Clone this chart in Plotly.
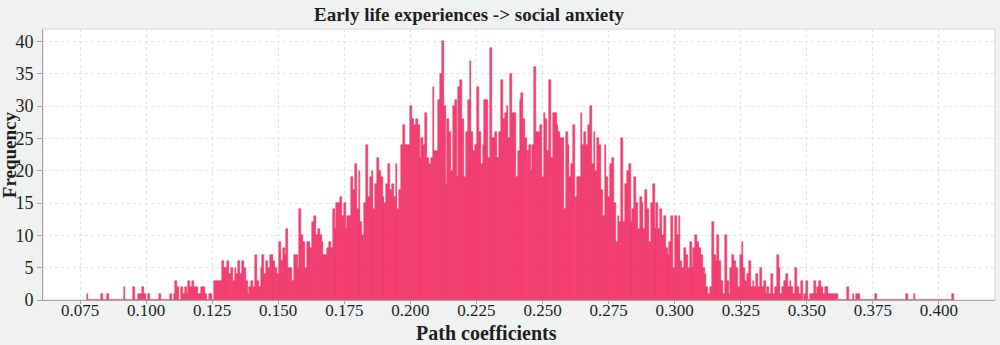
import plotly.graph_objects as go

# ---- data ----
bin_start = 0.0775      # left edge of first bin (path coefficient)
bin_width = 0.0007      # width of one bin

freq_left_tail = [1,0,0,0,0,0,0,0,1,0,0,1,0,0,0,0,0,0,0,0,2,0,0,0,0,2,0,0,1,1,2,1,0,1,0,0,0,0,0,1,0,0,0,0,0,1,0]
freq_rise = [1,3,2,0,2,1,2,1,3,2,3,2,2,1,
             1,2,2,1,0,1,1,0,3,3,3,3,6,5,
             5,6,4,5,3,5,4,6,4,6,5,3,1,2,
             3,2,7,3,2,5,7,4,6,5,7,7,6,5,
             4,9,6,8,7,11,5,5,3,7,7,5,14,10,
             9,5,9,9,8,12,13,10,11,10,9,7,7,8,
             9,8,14,11,15,15,16,13,15,11,13,13,19,17,
             21,14,20,12,10,15,24,16,19,20,14,18,22,20,
             19,16,15,18,21,17,18]
freq_peak_left = [16,21,14,17,24,27,24,24,24,30,28,27,28,27,22,25,24,29,22,21,
                  22,33,23,23,31,35,40,30,18,28,26,20,30,31,19]
freq_peak_mid = [33,34,28,19,26,31,37,26,23,24,33,26,21,24,31,31,22,39,25,25,
                 26,22,26,34,28,29,30,25,35,29,29,19,23,31,32]
freq_peak_right = [28,25,23,24,20,24,36,26,26,27,19,29,28,23,34,22,29,29,27,26,
                   25,25,14,26,24,19,21,27,16,19,19,29,24,26,24,27,30]
freq_fall = [21,26,20,25,24,17,13,24,19,16,21,22,15,9,13,12,25,12,18,20,
             21,12,14,19,15,11,16,15,11,17,14,9,15,18,11]
freq_low = [15,11,14,10,13,8,7,9,13,5,13,10,13,6,5,8,7,5,9,5,
            8,10,9,8,7,5,4,2,1,2,12,7,6,10,6,3,1,10]
freq_tail = [3,1,5,7,6,5,2,7,9,5,3,4,6,2,3,2,4,2,5,2,3,1,2,1,4,1,2,7,5,1,
             2,3,4,2,3,2,1,5,2,1,3,0,1,3,0,1,1,3,1,2,3]
freq_right_tail = [2,1,2,2,1,1,1,1,1,0,0,0,0,0,2,0,0,1,0,1,1,0,0,0,0,0,0,0,0,1,
                   0,0,0,0,0,0,0,0,0,0,0,0,0,0,0,0,1,0,0,0,1,0,0,0,0,0,0,0,0,0,
                   0,0,0,0,0,0,0,0,0,0,0,1]

freq = (freq_left_tail + freq_rise + freq_peak_left + freq_peak_mid + freq_peak_right
        + freq_fall + freq_low + freq_tail + freq_right_tail)
assert len(freq) == 469, len(freq)

x_tick_values = [0.075, 0.100, 0.125, 0.150, 0.175, 0.200, 0.225, 0.250, 0.275,
                 0.300, 0.325, 0.350, 0.375, 0.400]
x_tick_labels = ["0.075", "0.100", "0.125", "0.150", "0.175", "0.200", "0.225", "0.250",
                 "0.275", "0.300", "0.325", "0.350", "0.375", "0.400"]
y_tick_values = [0, 5, 10, 15, 20, 25, 30, 35, 40]

title_text = "Early life experiences -> social anxiety"
x_title = "Path coefficients"
y_title = "Frequency"

# ---- figure ----
centers = [bin_start + (k + 0.5) * bin_width for k in range(len(freq))]

FONT = "Liberation Serif"
TXT = "#1e1e1e"
fig = go.Figure(go.Bar(
    x=centers, y=freq, width=bin_width,
    marker=dict(color="#FF4074", line=dict(color="#DA2D5E", width=0.5)),
    hoverinfo="x+y",
))

fig.update_layout(
    width=1000, height=345,
    margin=dict(l=43, r=5, t=29, b=45),
    paper_bgcolor="#EFF2F1",
    plot_bgcolor="white",
    bargap=0,
    showlegend=False,
    font=dict(family=FONT, size=18, color=TXT),
    xaxis=dict(
        range=[0.0610, 0.4212],
        tickmode="array", tickvals=x_tick_values, ticktext=x_tick_labels,
        showgrid=True, gridcolor="#E4E4E4", griddash="3px,3px", gridwidth=1,
        showline=True, linecolor="#A5A5A5", linewidth=1,
        ticks="outside", ticklen=3, tickcolor="#A5A5A5",
        ticklabelstandoff=-8,
        zeroline=False,
        tickfont=dict(family=FONT, size=17, color=TXT),
    ),
    yaxis=dict(
        range=[0, 41.92],
        tickmode="array", tickvals=y_tick_values,
        showgrid=True, gridcolor="#E4E4E4", griddash="3px,3px", gridwidth=1,
        showline=True, linecolor="#A5A5A5", linewidth=1,
        ticks="outside", ticklen=5, tickcolor="#A5A5A5",
        zeroline=False,
        tickfont=dict(family=FONT, size=18, color=TXT),
    ),
    shapes=[dict(type="rect", xref="paper", yref="paper", x0=0, y0=0, x1=1, y1=1,
                 line=dict(color="#D6D6D6", width=1), layer="below")],
    annotations=[
        dict(text="<b>" + title_text + "</b>", xref="paper", yref="paper",
             x=0.4485, y=1.054, xanchor="center", yanchor="middle", showarrow=False,
             font=dict(family=FONT, size=19, color=TXT)),
        dict(text="<b>" + x_title + "</b>", xref="paper", yref="paper",
             x=0.466, y=-0.12, xanchor="center", yanchor="middle", showarrow=False,
             font=dict(family=FONT, size=20, color=TXT)),
        dict(text="<b>" + y_title + "</b>", xref="paper", yref="paper",
             x=-0.0355, y=0.535, xanchor="center", yanchor="middle", showarrow=False,
             textangle=-90, font=dict(family=FONT, size=19, color=TXT)),
    ],
)

fig.write_html("out.html")
